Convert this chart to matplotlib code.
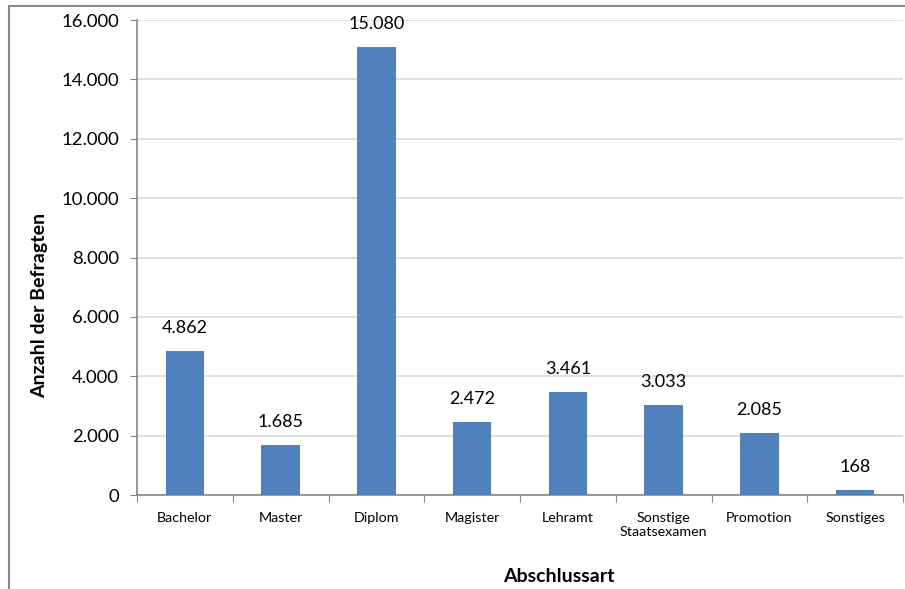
import matplotlib.pyplot as plt
from matplotlib.patches import Rectangle
from matplotlib.ticker import FuncFormatter

categories = ['Bachelor', 'Master', 'Diplom', 'Magister', 'Lehramt',
              'Sonstige\nStaatsexamen', 'Promotion', 'Sonstiges']
values = [4862, 1685, 15080, 2472, 3461, 3033, 2085, 168]


def de_format(v, pos=None):
    return f'{int(round(v)):,}'.replace(',', '.')


plt.rcParams['font.family'] = ['Lato', 'DejaVu Sans']

fig = plt.figure(figsize=(9.05, 5.89), dpi=100)
ax = fig.add_axes([137 / 905, 1 - 495 / 589, (903 - 137) / 905, (495 - 20) / 589])

x = range(len(categories))
bars = ax.bar(x, values, width=0.4, color='#4F81BD', zorder=3)
for xi, v in zip(x, values):
    ax.text(xi, v + 500, de_format(v), ha='center', va='bottom', fontsize=13, color='black')

ax.set_xlim(-0.5, len(categories) - 0.5)
ax.set_ylim(0, 16000)
ax.set_yticks(range(0, 16001, 2000))
ax.yaxis.set_major_formatter(FuncFormatter(de_format))
ax.set_xticks([i - 0.5 for i in range(len(categories) + 1)], minor=False)
ax.set_xticklabels([])
ax.set_xticks(list(x), minor=True)
ax.set_xticklabels(categories, minor=True, fontsize=10.3)
ax.tick_params(axis='x', which='minor', length=0, pad=12)
ax.tick_params(axis='x', which='major', length=5, color='#868686', direction='out')
ax.tick_params(axis='y', length=5, color='#868686', labelsize=13.3, pad=8)

ax.grid(axis='y', color='#D9D9D9', linewidth=1.2, zorder=0)
for s in ['top', 'right']:
    ax.spines[s].set_visible(False)
for s in ['left', 'bottom']:
    ax.spines[s].set_color('#868686')
    ax.spines[s].set_linewidth(1.2)

ax.set_ylabel('Anzahl der Befragten', fontsize=14, fontweight='bold', va='center')
ax.yaxis.set_label_coords((40 - 137) / 766, (495 - 305) / 475)
ax.set_xlabel('Abschlussart', fontsize=14, fontweight='bold', va='center')
ax.xaxis.set_label_coords((559 - 137) / 766, (495 - 577) / 475)

fig.patches.append(Rectangle((9 / 905, -0.1), 1.2, 1 - 6 / 589 + 0.1,
                             transform=fig.transFigure, fill=False,
                             edgecolor='#868686', linewidth=1.5))

fig.savefig('out.png', dpi=100)
